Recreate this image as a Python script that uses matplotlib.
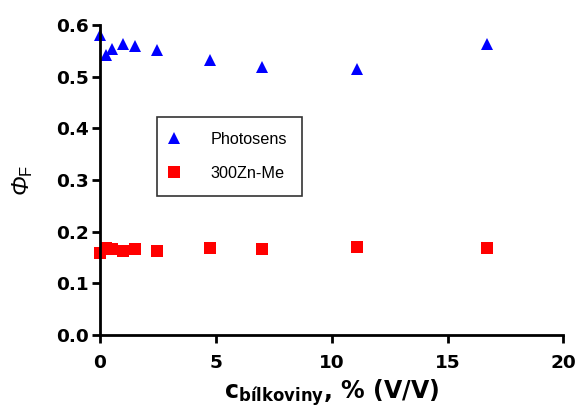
import matplotlib
matplotlib.use('Agg')
import matplotlib.pyplot as plt

# protein concentration, % (V/V)
conc = [0, 0.25, 0.5, 1.0, 1.5, 2.44, 4.76, 7.0, 11.1, 16.7]

# fluorescence quantum yields
photosens = [0.581, 0.543, 0.553, 0.564, 0.560, 0.551, 0.533, 0.518, 0.515, 0.564]
zn_me = [0.159, 0.168, 0.166, 0.163, 0.166, 0.162, 0.169, 0.166, 0.170, 0.169]

xticks = [0, 5, 10, 15, 20]
yticks = [0.0, 0.1, 0.2, 0.3, 0.4, 0.5, 0.6]

plt.rcParams['font.family'] = 'Liberation Sans'
plt.rcParams['mathtext.fontset'] = 'custom'
plt.rcParams['mathtext.rm'] = 'Liberation Sans'
plt.rcParams['mathtext.it'] = 'Liberation Sans:italic'
plt.rcParams['mathtext.bf'] = 'DejaVu Sans:bold'

fig = plt.figure(figsize=(5.79, 4.11), dpi=100)
ax = fig.add_axes([0.1727, 0.185, 0.973 - 0.1727, 0.939 - 0.185])

ax.plot(conc, photosens, '^', color='#0000ff', markersize=9, markeredgewidth=0,
        label='Photosens', clip_on=False)
ax.plot(conc, zn_me, 's', color='#ff0000', markersize=9, markeredgewidth=0,
        label='300Zn-Me', clip_on=False)

ax.set_xlim(0, 20)
ax.set_ylim(0, 0.6)
ax.set_xticks(xticks)
ax.set_yticks(yticks)
ax.set_yticklabels([f"{t:.1f}" for t in yticks])

for side in ['top', 'right']:
    ax.spines[side].set_visible(False)
for side in ['left', 'bottom']:
    ax.spines[side].set_linewidth(2)
ax.tick_params(width=2, length=6)
ax.tick_params(axis='y', pad=2)
ax.tick_params(axis='x', pad=8)
for lab in ax.get_xticklabels() + ax.get_yticklabels():
    lab.set_fontweight('bold')
    lab.set_fontfamily('DejaVu Sans')
    lab.set_fontsize(13.3)

ax.set_xlabel(r'$\mathbf{c}_{\mathbf{bílkoviny}}$, % (V/V)',
              fontsize=17, fontweight='bold', fontfamily='DejaVu Sans', labelpad=4)
# italic Phi as plain text, upright subscript F through mathtext
ax.set_ylabel(r'Φ$_{\mathrm{F}}$', fontsize=17, fontstyle='italic', labelpad=15)

leg = ax.legend(loc='upper left', bbox_to_anchor=(0.1237, 0.704), borderaxespad=0,
                frameon=True, fancybox=False, edgecolor='black', fontsize=11.7,
                handlelength=0.2, handletextpad=2.14, borderpad=0.92,
                labelspacing=1.18, numpoints=1)
leg.get_frame().set_linewidth(1.2)

fig.savefig('out.png', dpi=100)
